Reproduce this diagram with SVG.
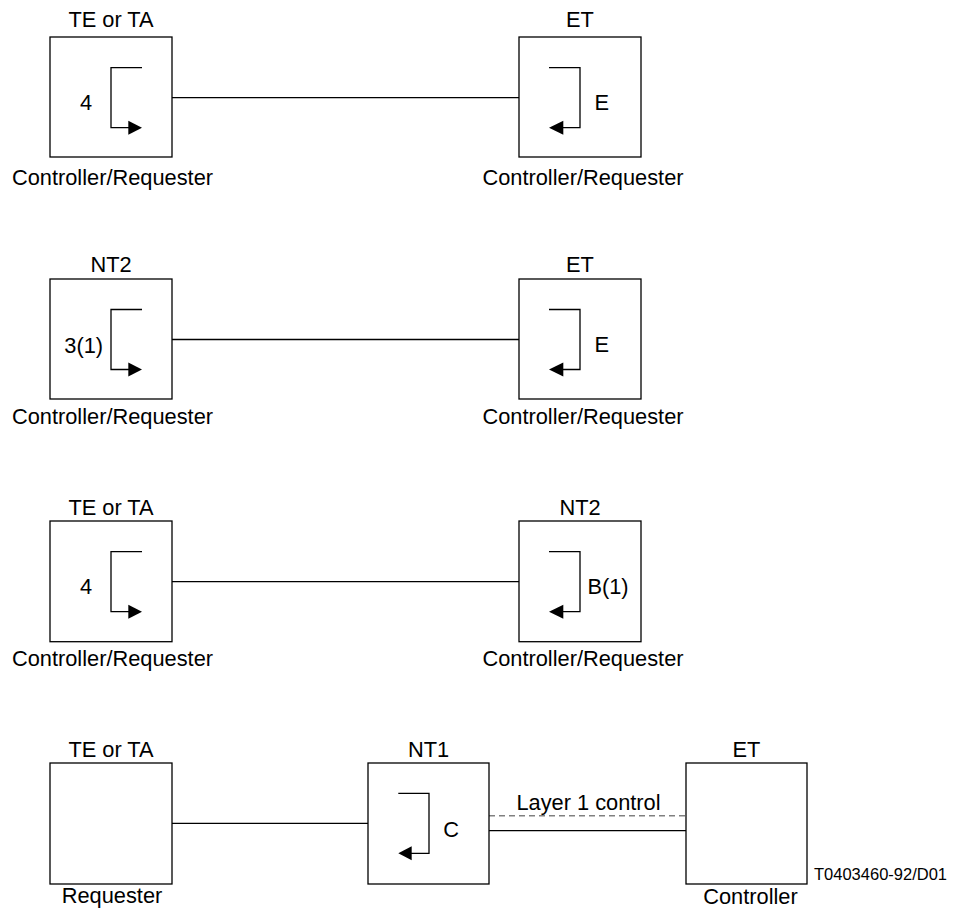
<svg xmlns="http://www.w3.org/2000/svg" width="953" height="909" viewBox="0 0 953 909">
<defs>
<style>
.box{fill:#fff;stroke:#000;stroke-width:1.3}
.ln{fill:none;stroke:#000;stroke-width:1.3}
.dash{fill:none;stroke:#808080;stroke-width:1.5;stroke-dasharray:6 4}
.ah{fill:#000;stroke:none}
text{font-family:"Liberation Sans",Arial,sans-serif;font-size:21.8px;fill:#000}
.c{text-anchor:middle}
.sm{font-size:16.5px}
</style>
</defs>
<rect width="953" height="909" fill="#fff"/>
<g id="connectors">
<line class="ln" x1="172" y1="97.7" x2="519" y2="97.7"/>
<line class="ln" x1="172" y1="339.5" x2="519" y2="339.5"/>
<line class="ln" x1="172" y1="581.7" x2="519" y2="581.7"/>
<line class="ln" x1="172" y1="823.3" x2="368" y2="823.3"/>
<line class="ln" x1="489" y1="830.7" x2="686" y2="830.7"/>
<line class="dash" x1="489" y1="815.7" x2="686" y2="815.7"/>
<text class="c" x="588.5" y="810">Layer 1 control</text>
</g>
<g id="row1-left">
<text class="c" x="111" y="27">TE or TA</text>
<rect class="box" x="50" y="37" width="122" height="120"/>
<path class="ln" d="M142,67.7 H111 V127.7 H132"/>
<polygon class="ah" points="142,127.7 128.3,120.7 128.3,134.7"/>
<text class="c" x="86" y="110">4</text>
<text class="c" x="112.5" y="185">Controller/Requester</text>
</g>
<g id="row1-right">
<text class="c" x="580" y="27">ET</text>
<rect class="box" x="519" y="37" width="122" height="120"/>
<path class="ln" d="M549,67.7 H580 V127.7 H559"/>
<polygon class="ah" points="549,127.7 563.3,120.7 563.3,134.7"/>
<text class="c" x="601.7" y="110">E</text>
<text class="c" x="583" y="185">Controller/Requester</text>
</g>
<g id="row2-left">
<text class="c" x="111" y="272">NT2</text>
<rect class="box" x="50" y="279" width="122" height="120"/>
<path class="ln" d="M142,309.5 H111 V369.5 H132"/>
<polygon class="ah" points="142,369.5 128.3,362.5 128.3,376.5"/>
<text class="c" x="83.7" y="353">3(1)</text>
<text class="c" x="112.5" y="424">Controller/Requester</text>
</g>
<g id="row2-right">
<text class="c" x="580" y="272">ET</text>
<rect class="box" x="519" y="279" width="122" height="120"/>
<path class="ln" d="M549,309.5 H580 V369.5 H559"/>
<polygon class="ah" points="549,369.5 563.3,362.5 563.3,376.5"/>
<text class="c" x="601.7" y="352">E</text>
<text class="c" x="583" y="424">Controller/Requester</text>
</g>
<g id="row3-left">
<text class="c" x="111" y="514.5">TE or TA</text>
<rect class="box" x="50" y="521" width="122" height="120.7"/>
<path class="ln" d="M142,551.7 H111 V611.7 H132"/>
<polygon class="ah" points="142,611.7 128.3,604.7 128.3,618.7"/>
<text class="c" x="86" y="594">4</text>
<text class="c" x="112.5" y="666">Controller/Requester</text>
</g>
<g id="row3-right">
<text class="c" x="580" y="514.5">NT2</text>
<rect class="box" x="519" y="521" width="122" height="120.7"/>
<path class="ln" d="M549,551.7 H580 V611.7 H559"/>
<polygon class="ah" points="549,611.7 563.3,604.7 563.3,618.7"/>
<text class="c" x="608" y="593.5">B(1)</text>
<text class="c" x="583" y="666">Controller/Requester</text>
</g>
<g id="row4-left">
<text class="c" x="111" y="756.7">TE or TA</text>
<rect class="box" x="50" y="763" width="122" height="121"/>
<text class="c" x="112" y="903">Requester</text>
</g>
<g id="row4-mid">
<text class="c" x="428.5" y="756.7">NT1</text>
<rect class="box" x="368" y="763" width="121" height="121"/>
<path class="ln" d="M398.3,793.3 H429 V853.3 H408"/>
<polygon class="ah" points="398.3,853.3 411.7,846.3 411.7,860.3"/>
<text class="c" x="451" y="836.5">C</text>
</g>
<g id="row4-right">
<text class="c" x="746.5" y="756.7">ET</text>
<rect class="box" x="686" y="763" width="121" height="121"/>
<text class="c" x="750.5" y="903.5">Controller</text>
<text class="sm" x="814" y="880">T0403460-92/D01</text>
</g>
</svg>
